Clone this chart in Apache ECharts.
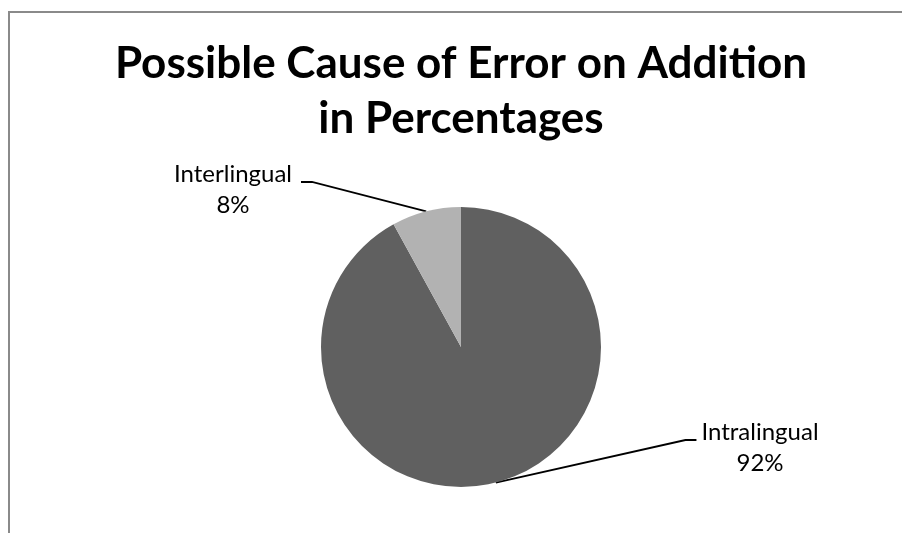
<!DOCTYPE html>
<html>
<head>
<meta charset="utf-8">
<script src="https://cdn.jsdelivr.net/npm/echarts@6/dist/echarts.min.js"></script>
<style>
  html, body { margin: 0; padding: 0; background: #fff; }
  #chart { width: 902px; height: 533px; }
</style>
</head>
<body>
<div id="chart"></div>
<script>
// Causes of addition errors, in percent
const categories = ['Intralingual', 'Interlingual'];
const percentages = [92, 8];

const chartTitle = 'Possible Cause of Error on Addition\nin Percentages';

// Where each label block sits and which side its leader line leaves from
const labelSpots = [
  { x: 760, y: 448, side: 'left', guideDy: 23 },
  { x: 233, y: 190, side: 'right', guideDy: 23 }
];

const chart = echarts.init(document.getElementById('chart'));

chart.setOption({
  backgroundColor: '#ffffff',
  animation: false,
  title: {
    text: chartTitle,
    left: 456,
    top: 31,
    textAlign: 'center',
    textStyle: {
      fontFamily: 'Lato',
      fontSize: 44,
      fontWeight: 'bold',
      lineHeight: 55,
      color: '#000000'
    }
  },
  graphic: [{
    type: 'rect',
    shape: { x: 9, y: 12, width: 1000, height: 1000 },
    style: { fill: 'none', stroke: '#8a8a8a', lineWidth: 2 },
    silent: true
  }],
  series: [{
    type: 'pie',
    center: [461, 347],
    radius: 140,
    startAngle: 90,
    clockwise: true,
    avoidLabelOverlap: false,
    itemStyle: { borderWidth: 0 },
    emphasis: { disabled: true },
    data: categories.map((name, i) => ({ name: name, value: percentages[i] })),
    color: ['#606060', '#b2b2b2'],
    label: {
      show: true,
      position: 'outside',
      formatter: '{b}\n{c}%',
      fontFamily: 'Lato',
      fontSize: 24,
      lineHeight: 31,
      color: '#000000',
      align: 'center'
    },
    labelLine: {
      show: true,
      length: 20,
      length2: 10,
      lineStyle: { color: '#000000', width: 1.8 }
    },
    labelLayout: function (p) {
      const spot = labelSpots[p.dataIndex];
      const w = p.labelRect.width;
      const h = p.labelRect.height;
      const left = spot.x - w / 2;
      const top = spot.y - h / 2;
      const lineY = top + spot.guideDy;
      const anchor = p.labelLinePoints ? p.labelLinePoints[0] : null;
      const out = { x: spot.x, y: spot.y, align: 'center', verticalAlign: 'middle' };
      if (anchor) {
        if (spot.side === 'left') {
          out.labelLinePoints = [anchor, [left - 16, lineY], [left - 5, lineY]];
        } else {
          out.labelLinePoints = [anchor, [left + w + 20, lineY], [left + w + 9, lineY]];
        }
      }
      return out;
    }
  }]
});
</script>
</body>
</html>
